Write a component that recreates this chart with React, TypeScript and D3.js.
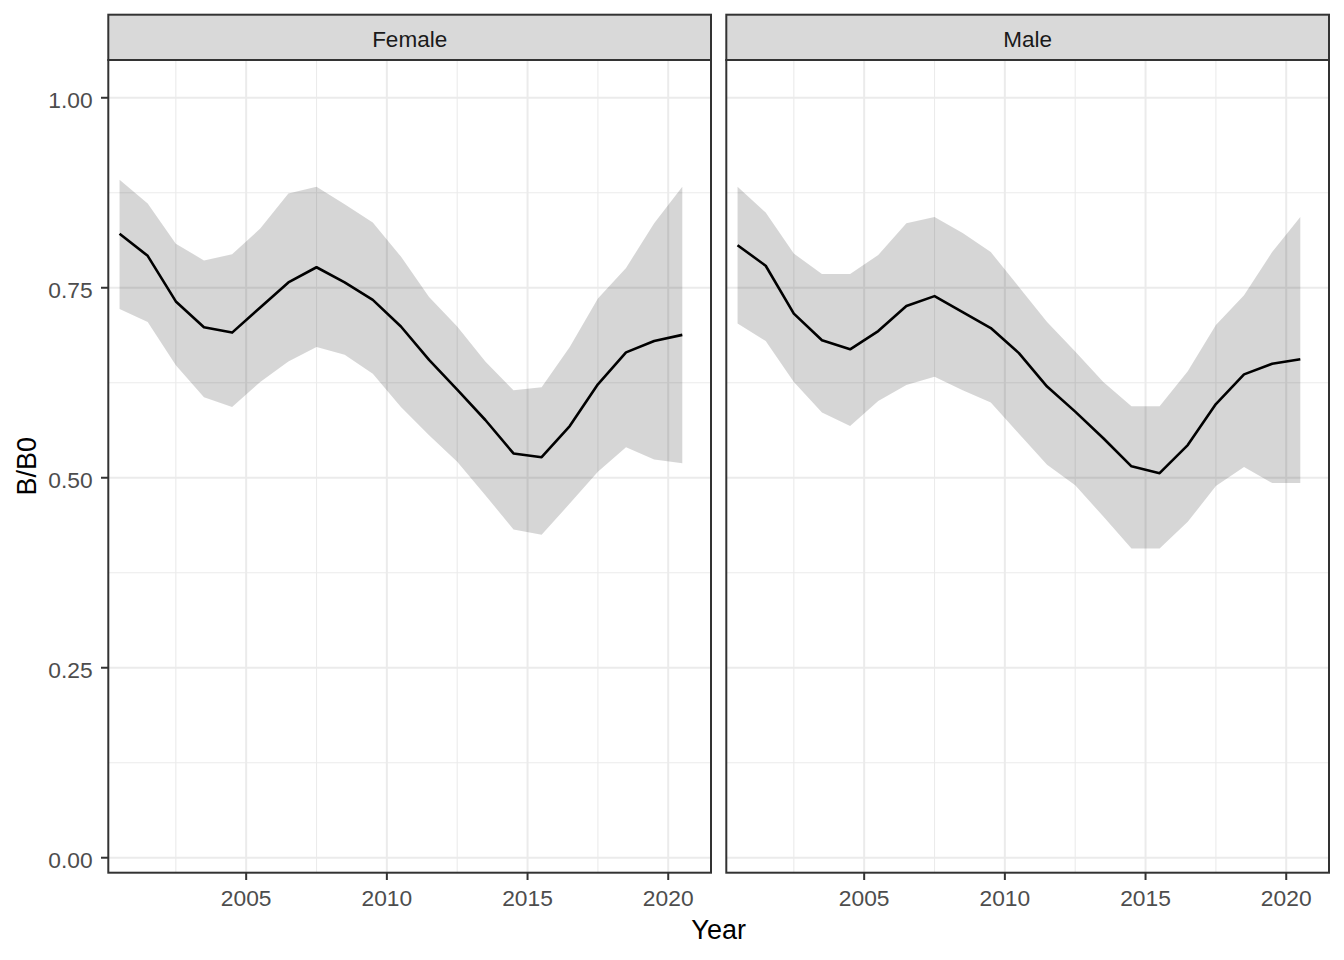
import React from "react";
import * as d3 from "d3";

const years = [2000.5, 2001.5, 2002.5, 2003.5, 2004.5, 2005.5, 2006.5, 2007.5, 2008.5, 2009.5, 2010.5, 2011.5, 2012.5, 2013.5, 2014.5, 2015.5, 2016.5, 2017.5, 2018.5, 2019.5, 2020.5];

const femaleMid = [0.821, 0.792, 0.732, 0.698, 0.691, 0.724, 0.757, 0.777, 0.757, 0.734, 0.699, 0.655, 0.616, 0.576, 0.532, 0.527, 0.568, 0.623, 0.665, 0.680, 0.688];
const femaleLo = [0.722, 0.705, 0.648, 0.606, 0.593, 0.626, 0.653, 0.672, 0.662, 0.637, 0.593, 0.556, 0.521, 0.477, 0.432, 0.425, 0.466, 0.508, 0.540, 0.524, 0.519];
const femaleHi = [0.892, 0.861, 0.808, 0.786, 0.794, 0.828, 0.874, 0.883, 0.860, 0.836, 0.791, 0.738, 0.699, 0.653, 0.615, 0.619, 0.672, 0.736, 0.776, 0.835, 0.883];

const maleMid = [0.806, 0.779, 0.716, 0.681, 0.669, 0.693, 0.726, 0.739, 0.718, 0.697, 0.664, 0.620, 0.587, 0.552, 0.515, 0.506, 0.543, 0.597, 0.636, 0.650, 0.656];
const maleLo = [0.703, 0.680, 0.626, 0.586, 0.568, 0.601, 0.622, 0.633, 0.615, 0.599, 0.558, 0.517, 0.490, 0.449, 0.407, 0.407, 0.442, 0.489, 0.514, 0.493, 0.493];
const maleHi = [0.883, 0.849, 0.795, 0.768, 0.768, 0.793, 0.835, 0.843, 0.822, 0.797, 0.751, 0.705, 0.666, 0.626, 0.594, 0.594, 0.640, 0.701, 0.740, 0.797, 0.843];

const panelNames = ["Female", "Male"];
const xTicks = [2005, 2010, 2015, 2020];
const xMinor = [2002.5, 2007.5, 2012.5, 2017.5];
const yTicks = [0, 0.25, 0.5, 0.75, 1.0];
const yMinor = [0.125, 0.375, 0.625, 0.875];

const xTitle = "Year";
const yTitle = "B/B0";

type Row = { year: number; mid: number; lo: number; hi: number };
const buildRows = (mid: number[], lo: number[], hi: number[]): Row[] =>
  years.map((y, i) => ({ year: y, mid: mid[i], lo: lo[i], hi: hi[i] }));

const panelsData: Row[][] = [
  buildRows(femaleMid, femaleLo, femaleHi),
  buildRows(maleMid, maleLo, maleHi),
];

const W = 1344;
const H = 960;
const FONT = "'Liberation Sans', Arial, sans-serif";

const panelTop = 60;
const panelBottom = 872.7;
const stripTop = 14.7;
const panelX = [
  [108.3, 711],
  [726.3, 1329],
];
const xDomain: [number, number] = [2000.1, 2021.52];
const yDomain: [number, number] = [-0.0197, 1.0497];

const y = d3.scaleLinear().domain(yDomain).range([panelBottom, panelTop]);

function Panel({ idx }: { idx: number }) {
  const [x0, x1] = panelX[idx];
  const x = d3.scaleLinear().domain(xDomain).range([x0, x1]);
  const rows = panelsData[idx];
  const area = d3
    .area<Row>()
    .x((d) => x(d.year))
    .y0((d) => y(d.lo))
    .y1((d) => y(d.hi));
  const line = d3
    .line<Row>()
    .x((d) => x(d.year))
    .y((d) => y(d.mid));
  return (
    <g>
      <rect x={x0} y={panelTop} width={x1 - x0} height={panelBottom - panelTop} fill="#fff" />
      {yMinor.map((v) => (
        <line key={"ym" + v} x1={x0} x2={x1} y1={y(v)} y2={y(v)} stroke="#EBEBEB" strokeWidth={1.1} />
      ))}
      {xMinor.map((v) => (
        <line key={"xm" + v} x1={x(v)} x2={x(v)} y1={panelTop} y2={panelBottom} stroke="#EBEBEB" strokeWidth={1.1} />
      ))}
      {yTicks.map((v) => (
        <line key={"yM" + v} x1={x0} x2={x1} y1={y(v)} y2={y(v)} stroke="#EBEBEB" strokeWidth={2} />
      ))}
      {xTicks.map((v) => (
        <line key={"xM" + v} x1={x(v)} x2={x(v)} y1={panelTop} y2={panelBottom} stroke="#EBEBEB" strokeWidth={2} />
      ))}
      <path d={area(rows) || ""} fill="#000" fillOpacity={0.16} stroke="none" />
      <path d={line(rows) || ""} fill="none" stroke="#000" strokeWidth={2.6} strokeLinejoin="round" />
      <rect x={x0} y={panelTop} width={x1 - x0} height={panelBottom - panelTop} fill="none" stroke="#333333" strokeWidth={2} />
      <rect x={x0} y={stripTop} width={x1 - x0} height={panelTop - stripTop} fill="#D9D9D9" stroke="#333333" strokeWidth={2} />
      <text x={(x0 + x1) / 2} y={46.7} textAnchor="middle" fontFamily={FONT} fontSize={22.5} fill="#1A1A1A">
        {panelNames[idx]}
      </text>
      {xTicks.map((v) => (
        <g key={"xt" + v}>
          <line x1={x(v)} x2={x(v)} y1={panelBottom} y2={panelBottom + 7.3} stroke="#333333" strokeWidth={2} />
          <text x={x(v)} y={905.7} textAnchor="middle" fontFamily={FONT} fontSize={22.8} fill="#4D4D4D">
            {String(v)}
          </text>
        </g>
      ))}
    </g>
  );
}

export default function App() {
  const fmt = d3.format(".2f");
  const x0 = panelX[0][0];
  return (
    <div style={{ position: "absolute", left: 0, top: 0 }}>
      <svg width={W} height={H} viewBox={`0 0 ${W} ${H}`} style={{ display: "block", background: "#fff" }}>
        <rect x={0} y={0} width={W} height={H} fill="#fff" />
        <Panel idx={0} />
        <Panel idx={1} />
        {yTicks.map((v) => (
          <g key={"yt" + v}>
            <line x1={x0 - 7.3} x2={x0} y1={y(v)} y2={y(v)} stroke="#333333" strokeWidth={2} />
            <text x={92.7} y={y(v) + 10} textAnchor="end" fontFamily={FONT} fontSize={22.8} fill="#4D4D4D">
              {fmt(v)}
            </text>
          </g>
        ))}
        <text x={(panelX[0][0] + panelX[1][1]) / 2} y={939.3} textAnchor="middle" fontFamily={FONT} fontSize={27} fill="#000">
          {xTitle}
        </text>
        <text
          transform={`translate(36, ${(panelTop + panelBottom) / 2}) rotate(-90)`}
          textAnchor="middle"
          fontFamily={FONT}
          fontSize={27}
          fill="#000"
        >
          {yTitle}
        </text>
      </svg>
    </div>
  );
}
